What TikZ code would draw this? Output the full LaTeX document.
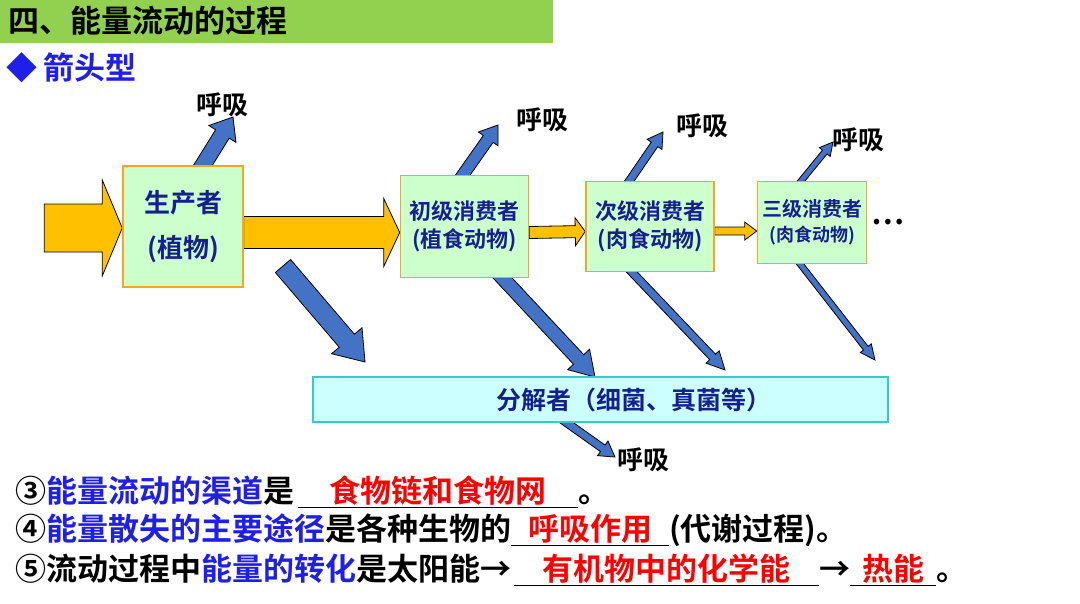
\documentclass[tikz,border=0pt]{standalone}
\usepackage{fontspec}
\setmainfont{Noto Sans CJK SC}[BoldFont={Noto Sans CJK SC Bold}]
\usetikzlibrary{calc,positioning,backgrounds}
\definecolor{ink}{HTML}{000000}
\definecolor{titlegreen}{HTML}{92D050}
\definecolor{navy}{HTML}{14208F}
\definecolor{brightblue}{HTML}{1F1FE8}
\definecolor{answer}{HTML}{FF0000}
\definecolor{stagefill}{HTML}{CCFFCC}
\definecolor{stageline}{HTML}{F5A623}
\definecolor{decofill}{HTML}{CCFFFF}
\definecolor{decoline}{HTML}{33CCCC}
\definecolor{flowyellow}{HTML}{FFC000}
\definecolor{heatblue}{HTML}{4472C4}
\tikzset{
  stage/.style={draw=stageline, line width=1.5pt, fill=stagefill, align=center, inner sep=0pt, text=navy},
  deco/.style={draw=decoline, line width=1.5pt, fill=decofill, inner sep=0pt, font=\fontsize{25}{30}\selectfont\bfseries, text=navy},
  resp/.style={font=\fontsize{26}{30}\selectfont\bfseries, text=ink, inner sep=0pt},
  flow/.style={fill=flowyellow, draw=ink, line width=0.8pt, line join=miter},
  heat/.style={fill=heatblue, draw=ink, line width=0.8pt, line join=miter},
  textline/.style={anchor=base west, inner sep=0pt, font=\fontsize{31}{36}\selectfont\bfseries, text=ink}
}
% block arrow: style, tail, tip, shaft half width, head half width, head length
\newcommand{\fatarrow}[6]{%
  \coordinate (hb) at ($(#3)!#6pt!(#2)$);
  \path[#1] ($(#2)!#4pt!90:(#3)$) -- ($(hb)!#4pt!90:(#3)$) -- ($(hb)!#5pt!90:(#3)$) -- (#3)
    -- ($(hb)!#5pt!-90:(#3)$) -- ($(hb)!#4pt!-90:(#3)$) -- ($(#2)!#4pt!-90:(#3)$) -- cycle;}
\newcommand{\blank}[2]{\rlap{\rule[-6pt]{#1}{1.2pt}}\makebox[#1]{\color{answer}#2}}
\newcommand{\kw}[1]{\textcolor{brightblue}{#1}}

\begin{document}
\begin{tikzpicture}[x=1pt, y=-1pt]
\useasboundingbox (0,0) rectangle (1080,603);
\fill[titlegreen] (0,0) rectangle (553,43);
\node[anchor=west, inner sep=0pt, font=\fontsize{31}{36}\selectfont\bfseries] (ttl) at (8,21) {四、能量流动的过程};
\node[anchor=west, inner sep=0pt, font=\fontsize{31}{36}\selectfont\bfseries, text=brightblue] (kind) at (6,68) {◆\hspace{6pt}箭头型};

% trophic levels
\node[stage, minimum width=120pt, minimum height=121pt, font=\fontsize{26}{45}\selectfont\bfseries] (prod) at (183,226.5) {生产者\\(植物)};
\node[stage, right=156pt of prod, minimum width=128pt, minimum height=102pt, font=\fontsize{22}{28}\selectfont\bfseries] (c1) {初级消费者\\(植食动物)};
\node[stage, right=56pt of c1, minimum width=128pt, minimum height=90pt, font=\fontsize{22}{28}\selectfont\bfseries] (c2) {次级消费者\\(肉食动物)};
\node[stage, right=42pt of c2, yshift=4pt, minimum width=109pt, minimum height=82pt, font=\fontsize{20}{25}\selectfont\bfseries] (c3) {三级消费者\\{\fontsize{18}{25}\selectfont(肉食动物)}};
\node[right=4pt of c3, inner sep=0pt, font=\fontsize{30}{30}\selectfont\bfseries] (more) {…};
\node[deco, minimum width=575pt, minimum height=45pt] (dec) at (600.5,399.5) {\hspace*{66pt}分解者（细菌、真菌等）};

% respiration labels
\node[resp] (r0) at (222,105) {呼吸};
\node[resp] (r1) at (542,120) {呼吸};
\node[resp] (r2) at (702,126) {呼吸};
\node[resp] (r3) at (858,140) {呼吸};
\node[resp] (r4) at (643,460) {呼吸};

% arrow ends
\coordinate (sun) at ([xshift=-78pt, yshift=-1.5pt]prod.west);
\coordinate (in) at ([yshift=-1.5pt]prod.west);
\coordinate (f1a) at ([yshift=-6pt]prod.east);
\coordinate (f1b) at ([yshift=-6pt]c1.west);
\coordinate (f2a) at ([yshift=-6pt]c1.east);
\coordinate (f2b) at ([yshift=-5pt]c2.west);
\coordinate (f3a) at ([yshift=-4.5pt]c2.east);
\coordinate (f3b) at ([yshift=-8.5pt]c3.west);
\coordinate (u0a) at (200,170);
\coordinate (u0b) at (233,117);
\coordinate (u1a) at (460,179);
\coordinate (u1b) at (498,125);
\coordinate (u2a) at (626,186);
\coordinate (u2b) at (663,132);
\coordinate (u3a) at (797,186);
\coordinate (u3b) at (833,142);
\coordinate (d0a) at (283,266);
\coordinate (d0b) at (365,362);
\coordinate (d1a) at (497,272);
\coordinate (d1b) at (595,377);
\coordinate (d2a) at (628,268);
\coordinate (d2b) at (725,370);
\coordinate (d3a) at (797,260);
\coordinate (d3b) at (875,360);
\coordinate (d4a) at (560,418);
\coordinate (d4b) at (615,457);

\begin{scope}[on background layer]
\fatarrow{flow}{sun}{in}{24}{48}{20}
\fatarrow{flow}{f1a}{f1b}{16}{34}{16}
\fatarrow{flow}{f2a}{f2b}{6}{14}{10}
\fatarrow{flow}{f3a}{f3b}{4}{9}{12}
\fatarrow{heat}{u0a}{u0b}{8}{16}{20}
\fatarrow{heat}{u1a}{u1b}{6}{12}{17}
\fatarrow{heat}{u2a}{u2b}{4}{9}{15}
\fatarrow{heat}{u3a}{u3b}{3}{7}{13}
\fatarrow{heat}{d0a}{d0b}{10}{20}{28}
\fatarrow{heat}{d1a}{d1b}{7}{15}{24}
\fatarrow{heat}{d2a}{d2b}{4}{9}{18}
\fatarrow{heat}{d3a}{d3b}{3}{7}{15}
\fatarrow{heat}{d4a}{d4b}{4}{9}{15}
\end{scope}

% questions
\node[textline] (q3) at (15,502) {③\kw{能量流动的渠道}是\hspace{4pt}\blank{280pt}{食物链和食物网}。};
\node[textline] (q4) at (15,540) {④\kw{能量散失的主要途径}是各种生物的\blank{158pt}{呼吸作用}(代谢过程)。};
\node[textline] (q5) at (15,580) {⑤流动过程中\kw{能量的转化}是太阳能→\hspace{3pt}\blank{305pt}{有机物中的化学能}→\blank{86pt}{热能}。};
\end{tikzpicture}
\end{document}
